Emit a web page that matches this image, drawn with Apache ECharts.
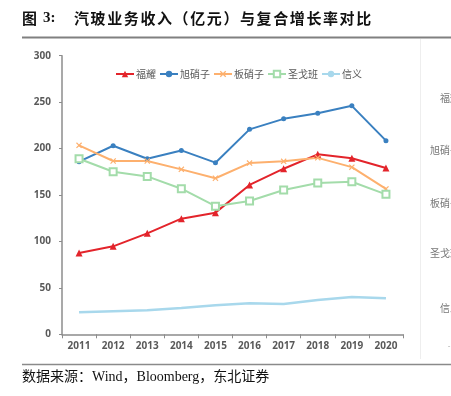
<!DOCTYPE html>
<html>
<head>
<meta charset="utf-8">
<script src="https://cdn.jsdelivr.net/npm/echarts@6/dist/echarts.min.js"></script>
<style>
html,body{margin:0;padding:0;background:#fff;}
#c{width:451px;height:396px;}
</style>
</head>
<body>
<div id="c"></div>
<script>
var years = ['2011','2012','2013','2014','2015','2016','2017','2018','2019','2020'];
var fuyao = [87.5, 94.7, 108.7, 124.5, 131, 160.8, 178.3, 193.8, 189.5, 179];
var agc = [185.9, 203, 189, 198, 184.8, 220.7, 232, 238, 246, 208.5];
var nsg = [203.5, 186.6, 186.6, 177.6, 168, 184.4, 186.3, 190, 180, 156.5];
var saint = [189, 175, 170, 156.8, 138, 143.5, 155.4, 163, 164.3, 150.7];
var xinyi = [23.7, 24.8, 25.8, 28.3, 31.2, 33.4, 32.6, 36.9, 40.2, 38.8];
var seriesNames = ['福耀', '旭硝子', '板硝子', '圣戈班', '信义'];
var yTicks = {min: 0, max: 300, interval: 50};
var titlePrefix = '图';
var titleNum = '3:';
var titleBody = '汽玻业务收入（亿元）与复合增长率对比';
var sourceText = '数据来源：Wind，Bloomberg，东北证券';
var sideLabels = ['福耀', '旭硝子', '板硝子', '圣戈班', '信义'];

var xMark = 'path://M0,1.4L1.4,0L5,3.6L8.6,0L10,1.4L6.4,5L10,8.6L8.6,10L5,6.4L1.4,10L0,8.6L3.6,5Z';
var colors = ['#e3242b', '#3a80c0', '#fdb06e', '#a3dcaa', '#a8d8ec'];

var chart = echarts.init(document.getElementById('c'));
var sideY = [98, 150, 203, 253, 308];
var titleFont = 'bold 15px "Noto Sans CJK SC", sans-serif';
var graphics = [
  {type:'text', left:22, top:11, style:{text:titlePrefix, font:titleFont, fill:'#111'}},
  {type:'text', left:43, top:11, style:{text:titleNum, font:'bold 15px "Liberation Serif", serif', fill:'#111'}},
  {type:'line', shape:{x1:22, y1:37.5, x2:451, y2:37.5}, style:{stroke:'#808080', lineWidth:2}},
  {type:'line', shape:{x1:420.5, y1:39, x2:420.5, y2:359}, style:{stroke:'#eeeeee', lineWidth:1}},
  {type:'line', shape:{x1:22, y1:364.5, x2:451, y2:364.5}, style:{stroke:'#8a8a8a', lineWidth:1.5}},
  {type:'text', left:22, top:370, style:{text:sourceText, font:'14px "Liberation Serif", "Noto Sans CJK SC", serif', fill:'#111'}}
];
Array.from(titleBody).forEach(function(ch, i){
  graphics.push({type:'text', left:74 + i * 16.6, top:11, style:{text:ch, font:titleFont, fill:'#111'}});
});
sideLabels.forEach(function(t, i){
  graphics.push({type:'text', x:460, y:sideY[i], style:{text:t, font:'10px "Noto Sans CJK SC", sans-serif', fill:'#777', align:'right', verticalAlign:'middle'}});
});
graphics.push({type:'text', x:449, y:346, style:{text:'-', font:'8px sans-serif', fill:'#aaa', align:'center', verticalAlign:'middle'}});

function mk(name, data, color, symbol, size, extra){
  var s = {
    name: name, type: 'line', data: data, symbol: symbol, symbolSize: size,
    showSymbol: symbol !== 'none',
    lineStyle: {color: color, width: 2},
    itemStyle: {color: color},
    emphasis: {disabled: true},
    animation: false
  };
  if (extra) Object.assign(s, extra);
  return s;
}

chart.setOption({
  animation: false,
  color: colors,
  graphic: graphics,
  legend: {
    data: seriesNames,
    left: 110, top: 64,
    itemWidth: 18, itemHeight: 8, itemGap: 3,
    textStyle: {fontSize: 10, color: '#595959', fontFamily: '"Noto Sans CJK SC", sans-serif', padding:[0,0,0,-3]}
  },
  grid: {left: 62, right: 48, top: 55.7, bottom: 61.7},
  xAxis: {
    type: 'category', data: years, boundaryGap: true,
    axisLine: {lineStyle: {color: '#8c8c8c', width: 1.5}},
    axisTick: {show: true, length: 4, interval: 0, lineStyle: {color: '#8c8c8c'}},
    axisLabel: {margin: 7, fontSize: 10, fontWeight: 'bold', color: '#595959', fontFamily: '"Open Sans", sans-serif', interval: 0}
  },
  yAxis: {
    type: 'value', min: yTicks.min, max: yTicks.max, interval: yTicks.interval,
    splitLine: {show: false},
    axisLine: {show: true, lineStyle: {color: '#8c8c8c', width: 1.5}},
    axisTick: {show: true, length: 3, lineStyle: {color: '#8c8c8c'}},
    axisLabel: {margin: 11, fontSize: 10, fontWeight: 'bold', color: '#595959', fontFamily: '"Open Sans", sans-serif'}
  },
  series: [
    mk(seriesNames[0], fuyao, colors[0], 'triangle', 7),
    mk(seriesNames[1], agc, colors[1], 'circle', 5),
    mk(seriesNames[2], nsg, colors[2], xMark, 6),
    mk(seriesNames[3], saint, colors[3], 'emptyRect', 7, {itemStyle:{color:colors[3], borderWidth:1.3}}),
    mk(seriesNames[4], xinyi, colors[4], 'none', 0, {lineStyle:{color:colors[4], width:2.5}})
  ]
});
</script>
</body>
</html>
